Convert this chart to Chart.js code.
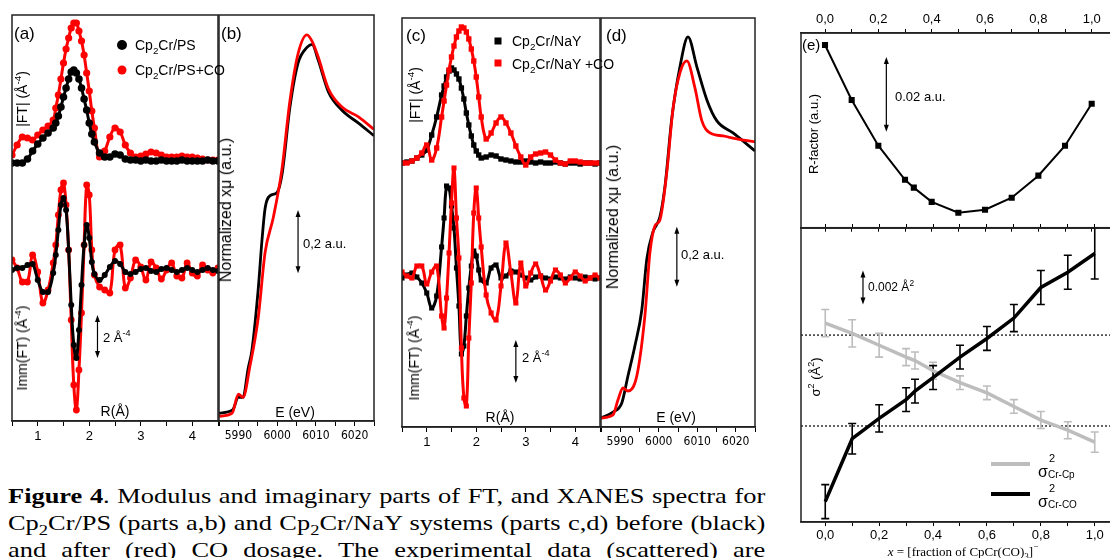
<!DOCTYPE html>
<html>
<head>
<meta charset="utf-8">
<title>Figure 4</title>
<script src="https://cdn.jsdelivr.net/npm/chart.js@4/dist/chart.umd.min.js"></script>
<style>
  body { margin: 0; width: 1110px; height: 558px; overflow: hidden; background: #fff; position: relative;
         font-family: "Liberation Sans", Arial, sans-serif; color: #000; }
  canvas { position: absolute; }
  .t { position: absolute; white-space: nowrap; line-height: 1; }
  .c { transform: translate(-50%, -50%); }
  .v { transform: translate(-50%, -50%) rotate(-90deg); }
  .m { transform: translateY(-50%); }
  .t span { position: absolute; }
  sub, sup { font-size: 70%; line-height: 0; }
  .cap { position: absolute; left: 8px; top: 482px; width: 631px; transform: scaleX(1.2); transform-origin: 0 0;
         font: 22px/27px "Liberation Serif", "Times New Roman", serif; }
  .cap div { text-align: justify; text-align-last: justify; }
</style>
</head>
<body>
<canvas id="pa" width="222" height="450" style="left:0;top:0"></canvas>
<canvas id="pb" width="164" height="450" style="left:216px;top:0"></canvas>
<canvas id="pc" width="212" height="455" style="left:392px;top:0"></canvas>
<canvas id="pd" width="162" height="455" style="left:598px;top:0"></canvas>
<canvas id="pe1" width="330" height="232" style="left:790px;top:0"></canvas>
<canvas id="pe2" width="330" height="334" style="left:790px;top:224px"></canvas>

<!-- panel a -->
<div class="t m" style="left:14px;top:33px;font-size:17px">(a)</div>
<div class="t c" style="left:122px;top:45px;width:10px;height:10px;border-radius:50%;background:#000"></div>
<div class="t c" style="left:122px;top:70px;width:9px;height:9px;border-radius:50%;background:#f00"></div>
<div class="t m" style="left:135px;top:45px;font-size:14px">Cp<sub>2</sub>Cr/PS</div>
<div class="t m" style="left:135px;top:70px;font-size:14px">Cp<sub>2</sub>Cr/PS+CO</div>
<div class="t v" style="left:22px;top:99px;font-size:14px">|FT| (Å<sup>-4</sup>)</div>
<div class="t v" style="left:22px;top:348px;font-size:14px">Imm(FT) (Å<sup>-4</sup>)</div>
<div class="t c" style="left:115px;top:411px;font-size:14px">R(Å)</div>
<div class="t m" style="left:103px;top:337px;font-size:13px">2 Å<sup>-4</sup></div>
<!-- panel b -->
<div class="t m" style="left:221px;top:33px;font-size:17px">(b)</div>
<div class="t v" style="left:226px;top:210px;font-size:16px">Normalized xμ (a.u.)</div>
<div class="t c" style="left:295px;top:412px;font-size:14px">E (eV)</div>
<div class="t m" style="left:303px;top:243px;font-size:13px">0,2 a.u.</div>
<!-- panel c -->
<div class="t m" style="left:406px;top:35px;font-size:17px">(c)</div>
<div class="t c" style="left:498px;top:41px;width:7px;height:7px;background:#000"></div>
<div class="t c" style="left:498px;top:63px;width:7px;height:7px;background:#f00"></div>
<div class="t m" style="left:512px;top:41px;font-size:14px">Cp<sub>2</sub>Cr/NaY</div>
<div class="t m" style="left:512px;top:64px;font-size:14px">Cp<sub>2</sub>Cr/NaY +CO</div>
<div class="t v" style="left:415px;top:95px;font-size:14px">|FT| (Å<sup>-4</sup>)</div>
<div class="t v" style="left:414px;top:358px;font-size:14px">Imm(FT) (Å<sup>-4</sup>)</div>
<div class="t c" style="left:500px;top:417px;font-size:14px">R(Å)</div>
<div class="t m" style="left:522px;top:357px;font-size:13px">2 Å<sup>-4</sup></div>
<!-- panel d -->
<div class="t m" style="left:606px;top:35px;font-size:17px">(d)</div>
<div class="t v" style="left:613px;top:217px;font-size:16px">Normalized xμ (a.u.)</div>
<div class="t c" style="left:676px;top:417px;font-size:14px">E (eV)</div>
<div class="t m" style="left:681px;top:254px;font-size:13px">0,2 a.u.</div>
<!-- panel e -->
<div class="t m" style="left:802px;top:44px;font-size:15px">(e)</div>
<div class="t v" style="left:813px;top:134px;font-size:13px">R-factor (a.u.)</div>
<div class="t m" style="left:895px;top:96px;font-size:13px">0.02 a.u.</div>
<div class="t v" style="left:815px;top:377px;font-size:13px">σ<sup>2</sup> (Å<sup>2</sup>)</div>
<div class="t m" style="left:868px;top:287px;font-size:12px">0.002 Å<sup>2</sup></div>
<div class="t" style="left:991px;top:462px;width:39px;height:4px;background:#bdbdbd"></div>
<div class="t" style="left:991px;top:492px;width:39px;height:4px;background:#000"></div>
<div class="t" style="left:1038px;top:464px;font-size:16px">σ<span style="left:11px;top:-11px;font-size:11px">2</span><span style="left:10px;top:6px;font-size:10px">Cr-Cp</span></div>
<div class="t" style="left:1038px;top:494px;font-size:16px">σ<span style="left:11px;top:-11px;font-size:11px">2</span><span style="left:10px;top:6px;font-size:10px">Cr-CO</span></div>
<div class="t c" style="left:963px;top:551px;font-size:13px;font-family:'Liberation Serif',serif"><i>x</i> = [fraction of CpCr(CO)<sub>3</sub>]<sup>−</sup></div>

<div class="cap">
  <div><b>Figure 4</b>. Modulus and imaginary parts of FT, and XANES spectra for</div>
  <div>Cp<sub>2</sub>Cr/PS (parts a,b) and Cp<sub>2</sub>Cr/NaY systems (parts c,d) before (black)</div>
  <div>and after (red) CO dosage. The experimental data (scattered) are</div>
</div>

<script>
// R grid (Å) shared by the FT curves
const rA = [0.5, 0.6, 0.7, 0.8, 0.9, 1.0, 1.1, 1.2, 1.3,
  1.35, 1.4, 1.45, 1.5, 1.55, 1.6, 1.65, 1.7, 1.75, 1.8, 1.85, 1.9, 1.95, 2.0, 2.05, 2.1,
  2.2, 2.3, 2.4, 2.5, 2.6, 2.7, 2.8, 2.9, 3.0, 3.1, 3.2, 3.3, 3.4, 3.5, 3.6, 3.7, 3.8, 3.9, 4.0, 4.1, 4.2, 4.3, 4.4, 4.5];

// panel a (Cp2Cr/PS) in arbitrary units
const ftPS = [0, 0, 0, 4, 12, 19, 25, 30, 35,
  40, 47, 56, 66, 75, 84, 91, 93, 90, 84, 75, 64, 53, 40, 29, 21,
  10, 6, 6, 9, 8, 4, 3, 3, 2, 3, 2, 2, 3, 2, 2, 2, 3, 2, 2, 2, 2, 3, 2, 2];
const ftPSCO = [8, 18, 26, 25, 23, 28, 33, 37, 43,
  55, 68, 84, 100, 114, 125, 135, 140, 140, 132, 122, 108, 90, 72, 52, 35,
  6, 12, 26, 35, 31, 18, 10, 6, 7, 9, 11, 10, 8, 6, 6, 6, 7, 6, 6, 5, 4, 3, 3, 3];
const imPS = [0, 2, 2, 5, 6, -10, -22, -22, -3,
  15, 40, 65, 72, 60, 20, -35, -75, -88, -60, -15, 25, 45, 32, 8, -4,
  -10, -5, 3, 9, 6, -2, -4, -2, 1, 2, -1, -2, 1, 2, 0, -2, 0, 2, 0, -2, 0, 2, 0, -1];
const imPSCO = [10, 2, -12, -12, 15, -2, -33, -20, 7,
  25, 55, 80, 87, 65, 20, -50, -115, -140, -100, -43, 25, 85, 75, 20, -5,
  -17, -20, -23, 20, 25, -18, -8, 10, 3, -10, 8, 2, -9, 0, 7, -6, -8, 7, -3, -6, 5, 0, -3, 2];

// panel c (Cp2Cr/NaY)
const ftNaY = [0, 1, 2, 5, 8, 13, 28, 46, 68,
  77, 86, 92, 95, 93, 89, 84, 75, 64, 50, 38, 27, 18, 12, 8, 5,
  6, 8, 7, 4, 3, 2, 1, 1, 2, 1, 0, 1, 0, 0, 1, 0, -1, 0, 0, -1, 0, 0, -1, 0];
const ftNaYCO = [0, 0, 2, 5, 10, 18, 3, 15, 46,
  62, 78, 93, 106, 117, 126, 132, 136, 135, 131, 124, 114, 102, 86, 66, 46,
  24, 30, 40, 46, 40, 30, 17, 6, -2, 6, 9, 10, 11, 8, 3, 0, -1, 2, 2, 1, 0, 0, 0, 0];
const imNaY = [0, 3, 5, 1, -5, -15, -30, -18, 31,
  60, 92, 90, 72, 50, 10, -28, -76, -68, -38, -10, 12, 27, 22, 8, -2,
  -5, 10, 13, 0, 2, 7, 6, 3, 0, -2, 1, 2, 0, -1, 1, 0, -1, 1, 0, -1, 1, 0, -1, 0];
const imNaYCO = [6, 2, 0, 12, 12, -6, 6, 12, -38,
  -50, -20, 25, 75, 110, 60, 20, -70, -120, -128, -60, -5, 65, 90, 60, 31,
  -17, -35, -42, -8, 35, 5, -25, 15, -8, 5, 14, 2, -12, -3, 8, 3, -5, 0, 6, 2, -3, 0, 3, 0];

// XANES, energy (eV) and normalized absorption
const xanPS_E = [5985, 5988.5, 5990, 5991.2, 5992.5, 5993.5, 5995.1, 5996.1, 5996.9, 5998.2, 6000, 6001.3, 6003.3, 6005.4, 6007.7, 6009, 6010.6, 6013.2, 6016.8, 6021, 6025];
const xanPS_mu = [0.0, 0.01, 0.05, 0.05, 0.14, 0.20, 0.39, 0.55, 0.65, 0.69, 0.70, 0.76, 0.97, 1.11, 1.16, 1.17, 1.12, 1.02, 0.96, 0.92, 0.88];
const xanPSCO_E = [5985, 5988.4, 5990, 5991.2, 5993, 5995.1, 5996.9, 5999, 6001.2, 6003.3, 6005.4, 6007.7, 6009, 6010.6, 6013.2, 6016.8, 6021, 6025];
const xanPSCO_mu = [-0.01, 0.0, 0.06, 0.05, 0.15, 0.30, 0.51, 0.62, 0.77, 0.99, 1.14, 1.20, 1.18, 1.13, 1.03, 0.97, 0.94, 0.90];
const xanNaY_E = [5985, 5988.1, 5990.4, 5992, 5993.8, 5995.6, 5996.9, 5998.5, 6000.3, 6001.6, 6003.4, 6005.5, 6007.6, 6009.9, 6012.5, 6015.1, 6019.3, 6025];
const xanNaY_mu = [0.0, 0.02, 0.05, 0.14, 0.24, 0.36, 0.53, 0.62, 0.67, 0.77, 1.0, 1.17, 1.27, 1.17, 1.06, 0.99, 0.95, 0.89];
const xanNaYCO_E = [5985, 5988.1, 5989.4, 5990.7, 5992, 5994.3, 5996.4, 5997.7, 5999, 6000.3, 6002.1, 6003.7, 6005.5, 6007.3, 6009.4, 6011.2, 6013.3, 6016.7, 6020.3, 6025];
const xanNaYCO_mu = [0.0, 0.01, 0.06, 0.10, 0.09, 0.14, 0.34, 0.55, 0.64, 0.66, 0.82, 1.03, 1.15, 1.19, 1.10, 0.99, 0.95, 0.94, 0.93, 0.92];

// panel e
const xFrac = [0, 0.1, 0.2, 0.3, 0.333, 0.4, 0.5, 0.6, 0.7, 0.8, 0.9, 1.0];
const rFactor = [0.0548, 0.0401, 0.0279, 0.0188, 0.0167, 0.0129, 0.0100, 0.0108, 0.0140, 0.0199, 0.0279, 0.0391];
const sigCp = [0.0117, 0.0111, 0.0104, 0.0097, 0.0095, 0.0089, 0.0082, 0.0076, 0.0068, 0.0060, 0.0054, 0.0047];
const errCp = [0.0008, 0.0008, 0.0007, 0.0005, 0.0005, 0.0005, 0.0004, 0.0004, 0.0004, 0.0005, 0.0005, 0.0006];
const sigCO = [0.0012, 0.0049, 0.0061, 0.0072, 0.0077, 0.0085, 0.0097, 0.0108, 0.0120, 0.0138, 0.0147, 0.0158];
const errCO = [0.0010, 0.0009, 0.0008, 0.0007, 0.0007, 0.0007, 0.0007, 0.0007, 0.0008, 0.0010, 0.0010, 0.0015];
const refLevels = [0.0110, 0.00565];

// tick positions
const rTicks = [0.5, 1, 1.5, 2, 2.5, 3, 3.5, 4, 4.5];
const eTicks = [5985, 5990, 5995, 6000, 6005, 6010, 6015, 6020, 6025];
const fracTicks = [0, 0.1, 0.2, 0.3, 0.4, 0.5, 0.6, 0.7, 0.8, 0.9, 1.0];

const RED = '#ff0000';
const GREY = '#bdbdbd';
const sans = '"Liberation Sans", Arial, sans-serif';
const axisFont = { family: sans, size: 13 };
const narrowFont = { family: '"Liberation Sans Narrow", "DejaVu Sans Condensed", Arial, sans-serif', size: 12 };

function pts(xs, ys, off) {
  return xs.map((x, i) => ({ x: x, y: ys[i] + (off || 0) }));
}

// box around the plot area
const frame = {
  id: 'frame',
  afterDraw(chart) {
    const { ctx, chartArea: a } = chart;
    ctx.save();
    ctx.strokeStyle = '#222';
    ctx.lineWidth = 1.5;
    ctx.strokeRect(a.left, a.top, a.right - a.left, a.bottom - a.top);
    ctx.restore();
  }
};

// scale arrows, error bars, dotted reference lines
const marks = {
  id: 'marks',
  beforeDatasetsDraw(chart, args, opts) {
    const { ctx, chartArea: a } = chart;
    const xs = chart.scales.x, ys = chart.scales.y;
    ctx.save();
    (opts.levels || []).forEach(v => {
      const py = ys.getPixelForValue(v);
      ctx.strokeStyle = '#000';
      ctx.lineWidth = 1.2;
      ctx.setLineDash([2, 2]);
      ctx.beginPath(); ctx.moveTo(a.left, py); ctx.lineTo(a.right, py); ctx.stroke();
    });
    ctx.setLineDash([]);
    (opts.bars || []).forEach(b => {
      ctx.strokeStyle = b.color;
      ctx.lineWidth = 1.6;
      b.x.forEach((x, i) => {
        const px = xs.getPixelForValue(x);
        const p0 = ys.getPixelForValue(b.y[i] + b.e[i]);
        const p1 = ys.getPixelForValue(b.y[i] - b.e[i]);
        ctx.beginPath();
        ctx.moveTo(px, p0); ctx.lineTo(px, p1);
        ctx.moveTo(px - 4, p0); ctx.lineTo(px + 4, p0);
        ctx.moveTo(px - 4, p1); ctx.lineTo(px + 4, p1);
        ctx.stroke();
      });
    });
    ctx.restore();
  },
  afterDatasetsDraw(chart, args, opts) {
    const { ctx } = chart;
    const xs = chart.scales.x, ys = chart.scales.y;
    ctx.save();
    ctx.strokeStyle = ctx.fillStyle = '#000';
    ctx.lineWidth = 1.2;
    (opts.arrows || []).forEach(ar => {
      const px = xs.getPixelForValue(ar[0]);
      const top = ys.getPixelForValue(ar[1]), bot = ys.getPixelForValue(ar[2]);
      ctx.beginPath(); ctx.moveTo(px, top + 4); ctx.lineTo(px, bot - 4); ctx.stroke();
      ctx.beginPath(); ctx.moveTo(px, top); ctx.lineTo(px - 2.5, top + 7); ctx.lineTo(px + 2.5, top + 7); ctx.fill();
      ctx.beginPath(); ctx.moveTo(px, bot); ctx.lineTo(px - 2.5, bot - 7); ctx.lineTo(px + 2.5, bot - 7); ctx.fill();
    });
    ctx.restore();
  }
};

function bottomAxis(min, max, ticks, labelFn, height, font) {
  return {
    type: 'linear', position: 'bottom', min: min, max: max,
    afterBuildTicks: s => { s.ticks = ticks.map(v => ({ value: v })); },
    afterFit: s => { s.height = height; },
    ticks: { autoSkip: false, maxRotation: 0, padding: 3, color: '#000', font: font, callback: labelFn },
    grid: { drawOnChartArea: false, tickLength: 5, color: '#000', lineWidth: 1 },
    border: { color: '#222', width: 1.5 }
  };
}

function fracAxis(position, height, labels) {
  return {
    type: 'linear', position: position, min: -0.09, max: 1.09,
    afterBuildTicks: s => { s.ticks = fracTicks.map(v => ({ value: v })); },
    afterFit: s => { s.height = height; },
    ticks: {
      autoSkip: false, maxRotation: 0, padding: 2, color: '#000', font: axisFont,
      callback: v => (labels && Math.round(v * 10) % 2 === 0) ? v.toFixed(1).replace('.', ',') : ''
    },
    grid: { drawOnChartArea: false, tickLength: 4, color: '#000', lineWidth: 1 },
    border: { color: '#222', width: 1.5 }
  };
}

function baseOptions(pad, scales, marksOpts) {
  return {
    responsive: false, animation: false, events: [],
    layout: { padding: pad },
    plugins: { legend: { display: false }, tooltip: { enabled: false }, marks: marksOpts },
    scales: scales
  };
}

function ftSet(ys, off, color, style, r) {
  return {
    data: pts(rA, ys, off), borderColor: color, backgroundColor: color,
    pointBackgroundColor: color, pointBorderColor: color, pointBorderWidth: 0,
    borderWidth: 3, pointStyle: style, pointRadius: r, tension: 0.4
  };
}

function xanSet(es, mus, color) {
  return {
    data: pts(es, mus), borderColor: color, borderWidth: 2.8, pointRadius: 0,
    cubicInterpolationMode: 'monotone'
  };
}

const rLabel = v => Number.isInteger(v) ? v : '';
const eLabel = v => (v % 10 === 0) ? v : '';

// (a)
new Chart(document.getElementById('pa'), {
  type: 'line',
  data: { datasets: [
    ftSet(imPS, 0, '#000', 'circle', 3),
    ftSet(ftPS, 107, '#000', 'circle', 3.8),
    ftSet(imPSCO, 0, RED, 'circle', 3.4),
    ftSet(ftPSCO, 107, RED, 'circle', 3.6)
  ] },
  options: baseOptions({ left: 12, top: 15, right: 3, bottom: 0 },
    { x: bottomAxis(0.5, 4.5, rTicks, rLabel, 29, axisFont), y: { display: false, min: -151, max: 255 } },
    { arrows: [[2.16, -45, -88]] }),
  plugins: [frame, marks]
});

// (b)
new Chart(document.getElementById('pb'), {
  type: 'line',
  data: { datasets: [
    xanSet(xanPSCO_E, xanPSCO_mu, RED),
    xanSet(xanPS_E, xanPS_mu, '#000')
  ] },
  options: baseOptions({ left: 3, top: 15, right: 6, bottom: 0 },
    { x: bottomAxis(5985, 6025, eTicks, eLabel, 29, narrowFont), y: { display: false, min: -0.025, max: 1.263 } },
    { arrows: [[6005.4, 0.644, 0.444]] }),
  plugins: [frame, marks]
});

// (c)
new Chart(document.getElementById('pc'), {
  type: 'line',
  data: { datasets: [
    ftSet(imNaYCO, 0, RED, 'rect', 3.6),
    ftSet(ftNaYCO, 115, RED, 'rect', 3.8),
    ftSet(imNaY, 0, '#000', 'rect', 3.6),
    ftSet(ftNaY, 115, '#000', 'rect', 3.8)
  ] },
  options: baseOptions({ left: 10, top: 18, right: 3, bottom: 0 },
    { x: bottomAxis(0.5, 4.5, rTicks, rLabel, 28, axisFont), y: { display: false, min: -149, max: 260 } },
    { arrows: [[2.8, -62, -105]] }),
  plugins: [frame, marks]
});

// (d)
new Chart(document.getElementById('pd'), {
  type: 'line',
  data: { datasets: [
    xanSet(xanNaYCO_E, xanNaYCO_mu, RED),
    xanSet(xanNaY_E, xanNaY_mu, '#000')
  ] },
  options: baseOptions({ left: 3, top: 18, right: 5, bottom: 0 },
    { x: bottomAxis(5985, 6025, eTicks, eLabel, 28, narrowFont), y: { display: false, min: -0.03, max: 1.333 } },
    { arrows: [[6004.7, 0.637, 0.437]] }),
  plugins: [frame, marks]
});

// (e) R-factor
new Chart(document.getElementById('pe1'), {
  type: 'line',
  data: { datasets: [{
    data: pts(xFrac, rFactor), borderColor: '#000', backgroundColor: '#000',
    pointBackgroundColor: '#000', pointBorderWidth: 0, borderWidth: 2,
    pointStyle: 'rect', pointRadius: 4.3, tension: 0
  }] },
  options: baseOptions({ left: 11, top: 0, right: 1, bottom: 0 },
    { x: fracAxis('top', 33, true), x2: fracAxis('bottom', 4, false), y: { display: false, min: 0.006, max: 0.058 } },
    { arrows: [[0.23, 0.0516, 0.0316]] }),
  plugins: [frame, marks]
});

// (e) sigma^2
new Chart(document.getElementById('pe2'), {
  type: 'line',
  data: { datasets: [
    { data: pts(xFrac, sigCO), borderColor: '#000', borderWidth: 3.5, pointRadius: 0, tension: 0 },
    { data: pts(xFrac, sigCp), borderColor: GREY, borderWidth: 3.5, pointRadius: 0, tension: 0 }
  ] },
  options: baseOptions({ left: 11, top: 0, right: 1, bottom: 0 },
    { x: fracAxis('bottom', 36, true), x2: fracAxis('top', 4, false), y: { display: false, min: 0, max: 0.0173 } },
    {
      arrows: [[0.14, 0.0148, 0.0128]],
      levels: refLevels,
      bars: [{ x: xFrac, y: sigCp, e: errCp, color: GREY }, { x: xFrac, y: sigCO, e: errCO, color: '#000' }]
    }),
  plugins: [frame, marks]
});
</script>
</body>
</html>
